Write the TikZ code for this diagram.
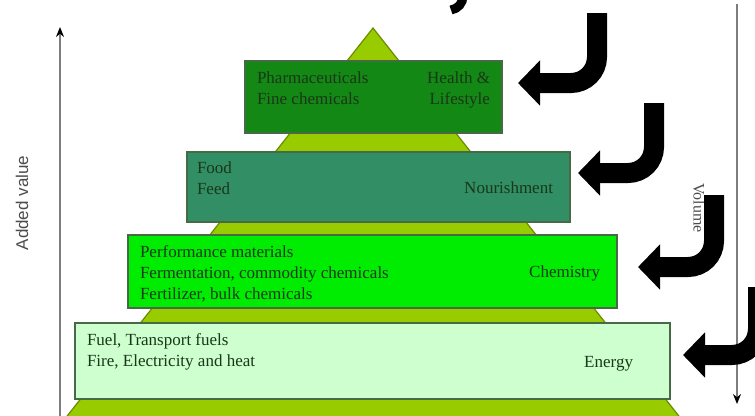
\documentclass[tikz,border=0pt]{standalone}
\usepackage{fontspec}
\setmainfont{Liberation Serif}
\setsansfont{Liberation Sans}
\usetikzlibrary{arrows.meta}
\usetikzlibrary{positioning}

\definecolor{pyrfill}{RGB}{153,204,0}
\definecolor{pyredge}{RGB}{105,140,0}
\definecolor{healthc}{RGB}{20,136,20}
\definecolor{foodc}{RGB}{50,142,100}
\definecolor{chemc}{RGB}{0,236,0}
\definecolor{energyc}{RGB}{206,255,206}
\definecolor{tierline}{RGB}{70,105,70}
\definecolor{tiertext}{RGB}{25,55,25}
\definecolor{axisc}{RGB}{125,125,125}

\begin{document}
\begin{tikzpicture}[x=1pt,y=-1pt,every node/.style={inner sep=0pt,outer sep=0pt}]
\tikzstyle{tier} = [rectangle, anchor=north west, draw=tierline, line width=1.2pt]
\tikzstyle{lefttxt} = [anchor=north west, align=left, text=tiertext, font=\fontsize{17}{21}\selectfont]
\tikzstyle{righttxt} = [anchor=north east, align=right, text=tiertext, font=\fontsize{17}{21}\selectfont]
\tikzstyle{hook} = [line width=20pt, -{Triangle[length=22pt,width=44pt]}]
\tikzstyle{axis} = [draw=axisc, line width=1.6pt, -{Stealth[length=10pt,width=8pt,black]}]
\useasboundingbox (0,0) rectangle (755,415);

% pyramid behind the tiers
\coordinate (apex) at (373,28);
\coordinate (baseL) at (64,420);
\coordinate (baseR) at (682,420);
\draw[fill=pyrfill, draw=pyredge, line width=1.2pt] (apex) -- (baseR) -- (baseL) -- cycle;

% tiers
\node[tier, fill=healthc, minimum width=257pt, minimum height=72pt] (health) at (245,61) {};
\node[tier, fill=foodc, minimum width=383pt, minimum height=70pt] (food) at (187,152) {};
\node[tier, fill=chemc, minimum width=489pt, minimum height=73pt] (chem) at (128,235) {};
\node[tier, fill=energyc, minimum width=595pt, minimum height=76pt] (energy) at (75,323) {};

\node[lefttxt] (healthL) at ([xshift=12pt,yshift=-11pt]health.north west) {Pharmaceuticals\\Fine chemicals};
\node[righttxt] (healthR) at ([xshift=-12pt,yshift=-11pt]health.north east) {Health \&\\Lifestyle};

\node[lefttxt] (foodL) at ([xshift=10pt,yshift=-10pt]food.north west) {Food\\Feed};
\node[righttxt] (foodR) at ([xshift=-17pt,yshift=-30pt]food.north east) {Nourishment};

\node[lefttxt] (chemL) at ([xshift=12pt,yshift=-11pt]chem.north west) {Performance materials\\Fermentation, commodity chemicals\\Fertilizer, bulk chemicals};
\node[righttxt] (chemR) at ([xshift=-17pt,yshift=-31pt]chem.north east) {Chemistry};

\node[lefttxt] (energyL) at ([xshift=12pt,yshift=-11pt]energy.north west) {Fuel, Transport fuels\\Fire, Electricity and heat};
\node[righttxt] (energyR) at ([xshift=-37pt,yshift=-33pt]energy.north east) {Energy};

% axes
\coordinate (avbot) at (60,420);
\coordinate (avtop) at (60,27);
\draw[axis] (avbot) -- (avtop);
\node[rotate=90, text=black!70, font=\sffamily\fontsize{17}{19}\selectfont] (addedval) at (22,203) {Added value};

\coordinate (voltop) at (737,4);
\coordinate (volbot) at (737,404);
\draw[axis] (voltop) -- (volbot);
\node[rotate=-90, text=black!70, font=\fontsize{16}{18}\selectfont] (volume) at (699,208) {Volume};

% hook arrows
\coordinate (h1s) at (597,13);
\coordinate (h1e) at (518,83);
\coordinate (h2s) at (654,103);
\coordinate (h2e) at (578,173);
\coordinate (h3s) at (714,195);
\coordinate (h3e) at (638,267);
\coordinate (h4s) at (758,287);
\coordinate (h4e) at (683,355);
\draw[hook] (h1s) -- ++(0,44) to[out=-90,in=0] ++(-26,26) -- (h1e);
\draw[hook] (h2s) -- ++(0,44) to[out=-90,in=0] ++(-26,26) -- (h2e);
\draw[hook] (h3s) -- ++(0,46) to[out=-90,in=0] ++(-26,26) -- (h3e);
\draw[hook] (h4s) -- ++(0,42) to[out=-90,in=0] ++(-26,26) -- (h4e);
\coordinate (h0s) at (463,-4);
\coordinate (h0e) at (451,10);
\draw[line width=9pt] (h0s) to[out=-90,in=10] (h0e);
\end{tikzpicture}
\end{document}
